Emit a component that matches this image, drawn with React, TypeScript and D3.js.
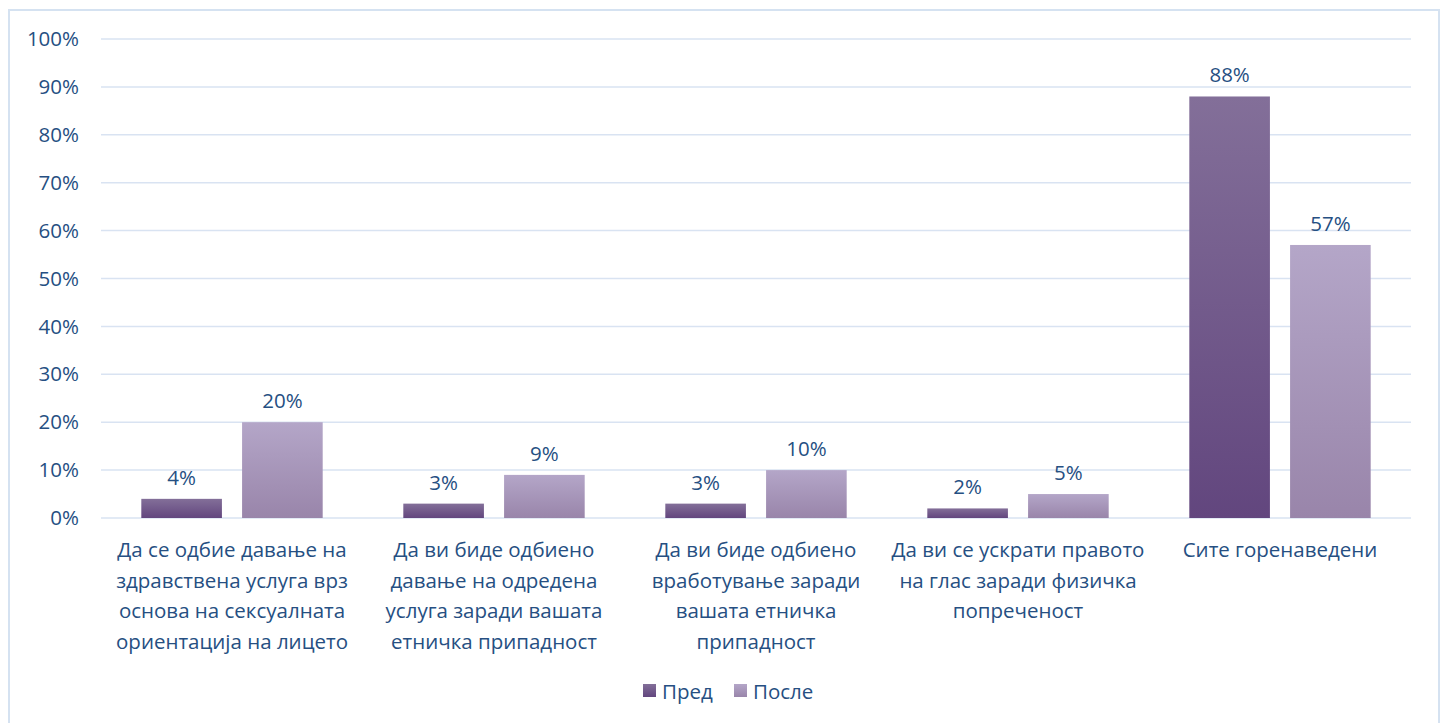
import React, { useEffect, useRef } from 'react';
import * as d3 from 'd3';

const categories = [
  ['Да се одбие давање на', 'здравствена услуга врз', 'основа на сексуалната', 'ориентација на лицето'],
  ['Да ви биде одбиено', 'давање на одредена', 'услуга заради вашата', 'етничка припадност'],
  ['Да ви биде одбиено', 'вработување заради', 'вашата етничка', 'припадност'],
  ['Да ви се ускрати правото', 'на глас заради физичка', 'попреченост'],
  ['Сите горенаведени'],
];
const seriesNames = ['Пред', 'После'];
const predValues = [4, 3, 3, 2, 88];
const posleValues = [20, 9, 10, 5, 57];
const yTicks = [0, 10, 20, 30, 40, 50, 60, 70, 80, 90, 100];

const textColor = '#264f82';
const gridColor = '#d9e3f2';

const App = () => {
  const ref = useRef<SVGSVGElement>(null);

  useEffect(() => {
    const svg = d3.select(ref.current);
    svg.selectAll('*').remove();

    const width = 1447;
    const height = 723;
    const left = 101;
    const right = 1411;
    const top = 39;
    const bottom = 518;
    const font = "'Open Sans', sans-serif";
    const fs = 20.5;

    const defs = svg.append('defs');
    const grads = [
      ['g0', '#836f99', '#62467e'],
      ['g1', '#b4a6c8', '#9985aa'],
    ];
    grads.forEach(([id, c1, c2]) => {
      const g = defs.append('linearGradient').attr('id', id)
        .attr('x1', 0).attr('y1', 0).attr('x2', 0).attr('y2', 1);
      g.append('stop').attr('offset', '0%').attr('stop-color', c1);
      g.append('stop').attr('offset', '100%').attr('stop-color', c2);
    });

    svg.append('rect')
      .attr('x', 0).attr('y', 0).attr('width', width).attr('height', height)
      .attr('fill', '#fff');
    svg.append('rect')
      .attr('x', 9).attr('y', 10).attr('width', 1430).attr('height', 730)
      .attr('fill', 'none').attr('stroke', '#d5e2f1').attr('stroke-width', 2);

    const y = d3.scaleLinear().domain([0, 100]).range([bottom, top]);
    const x0 = d3.scaleBand<number>()
      .domain(categories.map((_, i) => i))
      .range([left, right]);
    const x1 = d3.scaleBand<number>()
      .domain([0, 1])
      .range([0, x0.bandwidth()])
      .paddingInner(0.2)
      .paddingOuter(0.4);

    // grid
    svg.append('g').selectAll('line')
      .data(yTicks)
      .enter()
      .append('line')
      .attr('x1', left).attr('x2', right)
      .attr('y1', d => y(d)).attr('y2', d => y(d))
      .attr('stroke', gridColor).attr('stroke-width', 1.5);

    // y labels
    svg.append('g').selectAll('text')
      .data(yTicks)
      .enter()
      .append('text')
      .attr('x', 79)
      .attr('y', d => y(d))
      .attr('dy', '0.35em')
      .attr('text-anchor', 'end')
      .attr('font-family', font)
      .attr('font-size', fs)
      .attr('fill', textColor)
      .text(d => d + '%');

    const series = [predValues, posleValues];
    series.forEach((vals, s) => {
      const g = svg.append('g');
      g.selectAll('rect')
        .data(vals)
        .enter()
        .append('rect')
        .attr('x', (d, i) => x0(i)! + x1(s)!)
        .attr('y', d => y(d))
        .attr('width', x1.bandwidth())
        .attr('height', d => bottom - y(d))
        .attr('fill', `url(#g${s})`);
      g.selectAll('text')
        .data(vals)
        .enter()
        .append('text')
        .attr('x', (d, i) => x0(i)! + x1(s)! + x1.bandwidth() / 2)
        .attr('y', d => y(d) - 14)
        .attr('text-anchor', 'middle')
        .attr('font-family', font)
        .attr('font-size', fs)
        .attr('fill', textColor)
        .text(d => d + '%');
    });

    // category labels
    const cat = svg.append('g');
    categories.forEach((lines, i) => {
      const t = cat.append('text')
        .attr('x', x0(i)! + x0.bandwidth() / 2)
        .attr('y', 557)
        .attr('text-anchor', 'middle')
        .attr('font-family', font)
        .attr('font-size', fs)
        .attr('fill', textColor);
      lines.forEach((line, j) => {
        t.append('tspan')
          .attr('x', x0(i)! + x0.bandwidth() / 2)
          .attr('dy', j === 0 ? 0 : 30.5)
          .text(line);
      });
    });

    // legend
    const legend = svg.append('g');
    const lx = [643, 734];
    seriesNames.forEach((name, s) => {
      legend.append('rect')
        .attr('x', lx[s]).attr('y', 684).attr('width', 13).attr('height', 13)
        .attr('fill', `url(#g${s})`);
      legend.append('text')
        .attr('x', lx[s] + 19).attr('y', 699)
        .attr('font-family', font)
        .attr('font-size', fs)
        .attr('fill', textColor)
        .text(name);
    });
  }, []);

  return (
    <div>
      <style>{'body{margin:0}'}</style>
      <svg ref={ref} width={1447} height={723} style={{ display: 'block' }}></svg>
    </div>
  );
};

export default App;
